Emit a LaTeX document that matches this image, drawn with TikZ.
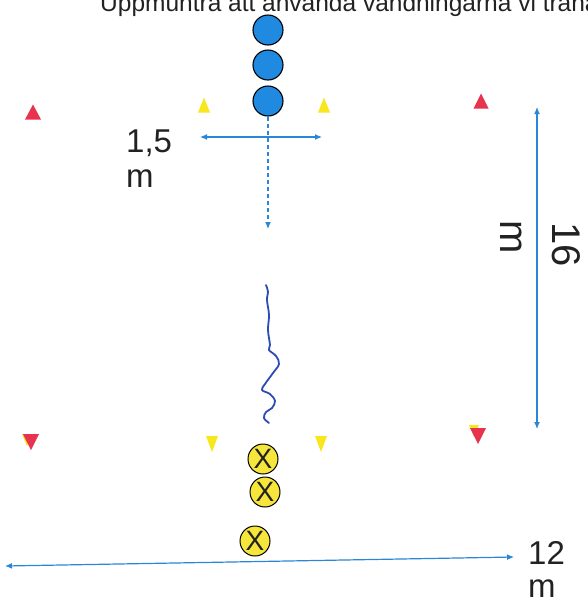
\documentclass[tikz,border=0pt]{standalone}
\usepackage{fontspec}
\setmainfont{Liberation Sans}
\usetikzlibrary{arrows.meta}
\definecolor{pblue}{HTML}{1F8AE0}
\definecolor{ablue}{HTML}{2B86D6}
\definecolor{sblue}{HTML}{2E4BB5}
\definecolor{cyellow}{HTML}{F8E71C}
\definecolor{pyellow}{HTML}{F6E53A}
\definecolor{cred}{HTML}{E8334F}
\definecolor{txt}{HTML}{222222}
\begin{document}
\begin{tikzpicture}[x=1pt,y=-1pt,
  bluep/.style={circle,draw=black,line width=1.1pt,fill=pblue,minimum size=30pt,inner sep=0pt},
  xp/.style={circle,draw=black,line width=1pt,fill=pyellow,minimum size=30pt,inner sep=0pt,
    font=\fontsize{28}{28}\selectfont,text=txt},
  dimarrow/.style={draw=ablue,line width=1.2pt,{Latex[length=7pt,width=6pt]}-{Latex[length=7pt,width=6pt]}},
  lbl/.style={font=\fontsize{33}{35}\selectfont,inner sep=0pt,text=txt},
  biglbl/.style={font=\fontsize{40}{40}\selectfont,inner sep=0pt,text=txt,rotate=-90},
  redcone/.style={fill=cred},
  yelcone/.style={fill=cyellow}
]
\useasboundingbox (0,0) rectangle (587,603);
\clip (0,0) rectangle (587,603);

% title (cut off at the top)
\node[anchor=base west,font=\fontsize{24.5}{25}\selectfont,inner sep=0pt,text=txt] (title) at (100,11)
  {Uppmuntra att använda vändningarna vi tränar};

% top cones
\coordinate (rtl) at (33,112);
\coordinate (ytl) at (204,105);
\coordinate (ytr) at (324,105);
\coordinate (rtr) at (481,101);
\fill[redcone] (rtl) ++(-8,7.5) -- ++(8,-15) -- ++(8,15) -- cycle;
\fill[yelcone] (ytl) ++(-6,7.5) -- ++(6,-15) -- ++(6,15) -- cycle;
\fill[yelcone] (ytr) ++(-6,7.5) -- ++(6,-15) -- ++(6,15) -- cycle;
\fill[redcone] (rtr) ++(-7.5,7.5) -- ++(7.5,-15) -- ++(7.5,15) -- cycle;

% bottom cones
\coordinate (ybl2) at (27,440);
\coordinate (rbl) at (31,442);
\coordinate (ybl) at (212,444);
\coordinate (ybr) at (321,444);
\coordinate (ybr2) at (474,431);
\coordinate (rbr) at (478,436);
\fill[yelcone] (ybl2) ++(-5,-6) -- ++(5,12) -- ++(5,-12) -- cycle;
\fill[redcone] (rbl) ++(-8,-8) -- ++(8,16) -- ++(8,-16) -- cycle;
\fill[yelcone] (ybl) ++(-6,-8) -- ++(6,16) -- ++(6,-16) -- cycle;
\fill[yelcone] (ybr) ++(-6,-8) -- ++(6,16) -- ++(6,-16) -- cycle;
\fill[yelcone] (ybr2) ++(-5,-6) -- ++(5,12) -- ++(5,-12) -- cycle;
\fill[redcone] (rbr) ++(-8,-8) -- ++(8,16) -- ++(8,-16) -- cycle;

% blue players
\node[bluep] (b1) at (268,30) {};
\node[bluep] (b2) at (268,65) {};
\node[bluep] (b3) at (268,101) {};

% yellow players
\node[xp] (x1) at (263,459) {X};
\node[xp] (x2) at (265,492) {X};
\node[xp] (x3) at (255,541) {X};

% 1,5 m dimension
\coordinate (h1) at (200,137);
\coordinate (h2) at (322,137);
\draw[dimarrow] (h1) -- (h2);
\node[lbl,anchor=base west] (l15) at (126,152) {1,5};
\node[lbl,anchor=base west] (l15m) at (126,187) {m};

% dashed run
\coordinate (dend) at (268,229);
\draw[ablue,line width=1.2pt,dash pattern=on 4pt off 3pt,-{Latex[length=7pt,width=6pt]}] (b3.south) -- (dend);

% dribble squiggle
\draw[sblue,line width=1.8pt,line cap=round,line join=round]
  plot[smooth,tension=0.6] coordinates {(266,285) (268,292) (267,300) (269,315) (268,330) (270,345) (269,350)
   (276,356) (279,364) (273,373) (265,384) (262,390) (270,394) (275,401) (272,408) (266,412) (264,418) (269,423)};

% 16 m dimension
\coordinate (v1) at (537,107);
\coordinate (v2) at (537,429);
\draw[dimarrow] (v1) -- (v2);
\node[biglbl,anchor=base west] (l16) at (552,222) {16};
\node[biglbl,anchor=base west] (l16m) at (500,220) {m};

% 12 m dimension
\coordinate (w1) at (5,566);
\coordinate (w2) at (514,557);
\draw[dimarrow] (w1) -- (w2);
\node[lbl,anchor=base west] (l12) at (528,564) {12};
\node[lbl,anchor=base west] (l12m) at (528,597) {m};
\end{tikzpicture}
\end{document}
